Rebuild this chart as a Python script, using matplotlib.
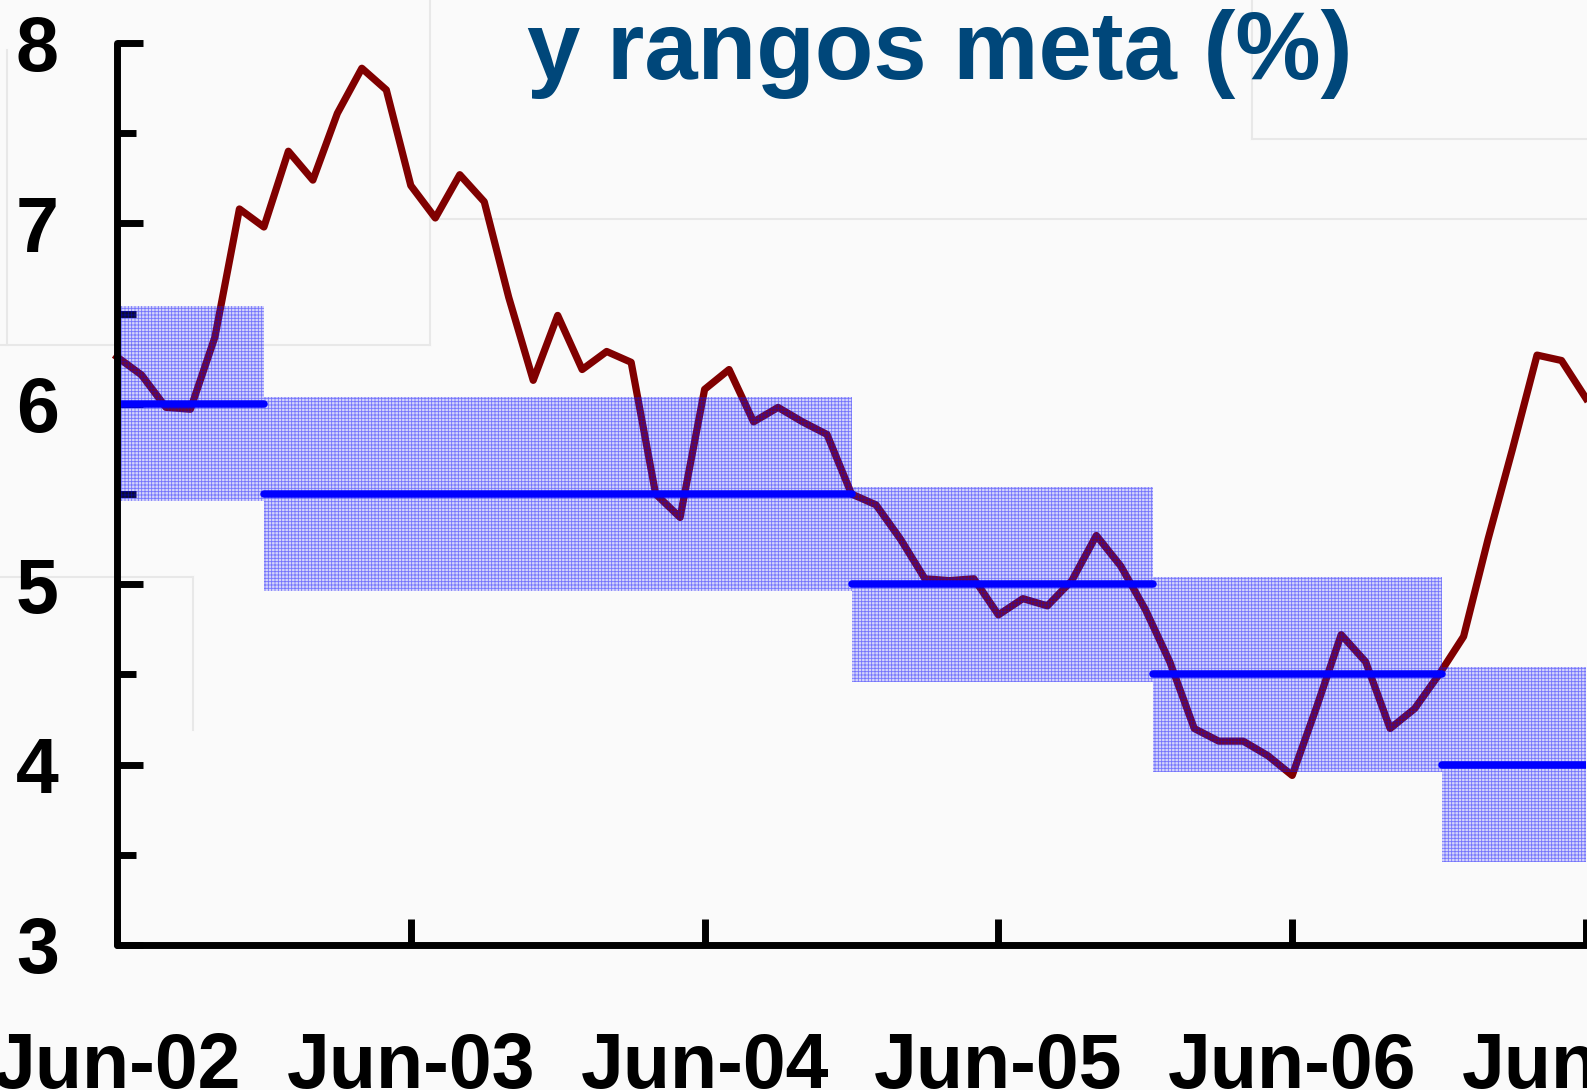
import matplotlib
matplotlib.use('Agg')
import matplotlib.pyplot as plt
import numpy as np
from matplotlib.lines import Line2D

# monthly inflation, Jun-02 .. Jun-07
months = list(range(61))
inflation = [6.26, 6.16, 5.98, 5.97, 6.37, 7.08, 6.98, 7.40, 7.24, 7.61,
             7.86, 7.74, 7.21, 7.03, 7.27, 7.12, 6.59, 6.13, 6.49, 6.19,
             6.29, 6.23, 5.50, 5.37, 6.08, 6.19, 5.90, 5.98, 5.90, 5.83,
             5.50, 5.44, 5.25, 5.03, 5.02, 5.03, 4.83, 4.92, 4.88, 5.02,
             5.27, 5.10, 4.86, 4.57, 4.20, 4.13, 4.13, 4.05, 3.94, 4.32,
             4.72, 4.57, 4.20, 4.31, 4.50, 4.71, 5.25, 5.75, 6.27, 6.24,
             6.03]

# target ranges (months from Jun-02)
band_start = [0, 6, 30, 42.3, 54.1]
band_end = [6, 30, 42.3, 54.1, 61]
band_mid = [6.0, 5.5, 5.0, 4.5, 4.0]
band_half = 0.54

xtick_pos = [0, 12, 24, 36, 48, 60]
xtick_lab = ['Jun-02', 'Jun-03', 'Jun-04', 'Jun-05', 'Jun-06', 'Jun-07']
ytick_pos = [3, 4, 5, 6, 7, 8]

plt.rcParams['font.family'] = ['Liberation Sans', 'DejaVu Sans']
plt.rcParams['hatch.linewidth'] = 0.6

W, H = 1587, 1090
fig = plt.figure(figsize=(W / 100, H / 100), dpi=100, facecolor='#fafafa')

# faint leftovers of the slide behind the chart
def bg_line(xs, ys):
    fig.add_artist(Line2D([x / W for x in xs], [1 - y / H for y in ys],
                          color='#e8e8e8', lw=1.5, zorder=0))

bg_line([7, 7], [50, 345])
bg_line([0, 430], [345, 345])
bg_line([430, 430], [0, 345])
bg_line([430, 1587], [219, 219])
bg_line([1252, 1252], [0, 139])
bg_line([1252, 1587], [139, 139])
bg_line([0, 193], [577, 577])
bg_line([193, 193], [577, 730])

x0, x60 = 117, 1586
y8, y3 = 43, 945
ax = fig.add_axes([x0 / W, (H - y3) / H, (x60 - x0) / W, (y3 - y8) / H])
ax.patch.set_alpha(0)
ax.set_xlim(0, 60)
ax.set_ylim(3, 8)

ax.plot(months, inflation, color='#800000', lw=5.2, solid_joinstyle='round',
        zorder=2, clip_on=False)

for s, e, m in zip(band_start, band_end, band_mid):
    ax.fill_between([s, e], m - band_half, m + band_half,
                    facecolor=(0.25, 0.25, 1.0, 0.2), edgecolor=(0, 0, 1, 0.45),
                    hatch='+++++', lw=0, zorder=3)
    ax.plot([s, e], [m, m], color='#0000ff', lw=5.4, solid_capstyle='round',
            zorder=4)

for side in ['top', 'right']:
    ax.spines[side].set_visible(False)
for side in ['left', 'bottom']:
    ax.spines[side].set_linewidth(5)
    ax.spines[side].set_capstyle('round')
    ax.spines[side].set_zorder(5)

ax.set_yticks(ytick_pos)
ax.set_yticks(np.arange(3.5, 8, 1), minor=True)
ax.set_xticks(xtick_pos, xtick_lab)
ax.tick_params(axis='y', which='major', direction='in', length=19, width=5,
               pad=42, labelsize=55.5)
ax.tick_params(axis='y', which='minor', direction='in', length=14, width=5)
ax.tick_params(axis='x', direction='in', length=19, width=5, pad=62,
               labelsize=55.5)
for lab in ax.get_xticklabels() + ax.get_yticklabels():
    lab.set_fontweight('bold')

fig.text(940 / W, 1 - 79 / H, 'y rangos meta (%)', ha='center', va='baseline',
         fontsize=69, fontweight='bold', color='#00477a')

fig.savefig('out.png', dpi=100, facecolor=fig.get_facecolor())
